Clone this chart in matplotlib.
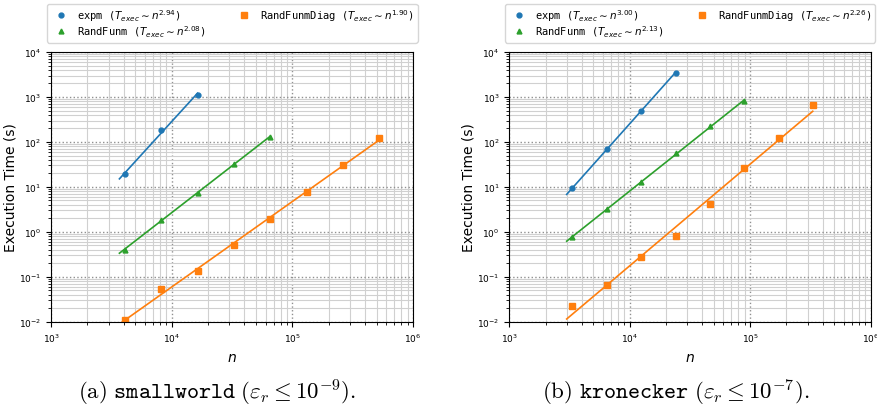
import numpy as np
import matplotlib
matplotlib.use("Agg")
import matplotlib.pyplot as plt
from matplotlib.ticker import LogLocator, NullFormatter

# smallworld
sw_n_expm = [4096, 8192, 16384]
sw_t_expm = [19.0, 185.0, 1130.0]
sw_n_funm = [4096, 8192, 16384, 32768, 65536]
sw_t_funm = [0.40, 1.85, 7.4, 33.0, 131.0]
sw_n_diag = [4096, 8192, 16384, 32768, 65536, 131072, 262144, 524288]
sw_t_diag = [0.0111, 0.054, 0.134, 0.50, 1.91, 7.8, 30.0, 121.0]
sw_exps = ["2.94", "2.08", "1.90"]

# kronecker
kr_n = [3330, 6470, 12450, 24150, 46600, 89500, 172700, 331000]
kr_t_expm = [9.3, 71.0, 497.0, 3450.0]
kr_t_funm = [0.77, 3.2, 12.9, 56.0, 221.0, 815.0]
kr_t_diag = [0.0225, 0.065, 0.272, 0.81, 4.1, 27.0, 121.0, 650.0]
kr_exps = ["3.00", "2.13", "2.26"]

names = ["expm", "RandFunm", "RandFunmDiag"]
colors = ["C0", "C2", "C1"]
markers = ["o", "^", "s"]
msizes = [3.5, 3.5, 4.2]


def fit_line(n, t, p):
    n = np.asarray(n, dtype=float)
    t = np.asarray(t, dtype=float)
    p = float(p)
    c = np.mean(np.log10(t) - p * np.log10(n))
    xs = np.linspace(0.9 * n[0], n[-1], 100)
    return xs, 10 ** c * xs ** p


def draw(ax, series, exps):
    for (n, t), name, exp, col, mk, ms in zip(series, names, exps, colors, markers, msizes):
        xs, ys = fit_line(n, t, exp)
        ax.plot(xs, ys, color=col, lw=1.2)
        ax.plot(n, t, ls="none", marker=mk, ms=ms, color=col,
                label=name + r" ($T_{exec} \sim n^{" + exp + "}$)")
    ax.set_xscale("log")
    ax.set_yscale("log")
    ax.set_xlim(1e3, 1e6)
    ax.set_ylim(1e-2, 1e4)
    for axis in (ax.xaxis, ax.yaxis):
        axis.set_major_locator(LogLocator(base=10, numticks=20))
        axis.set_minor_locator(LogLocator(base=10, subs=np.arange(2, 10), numticks=100))
        axis.set_minor_formatter(NullFormatter())
    ax.grid(True, which="minor", ls="-", color="#d0d0d0", lw=0.8)
    ax.grid(True, which="major", ls=":", color="#909090", lw=1.0)
    ax.tick_params(labelsize=6.5)
    ax.set_xlabel("$n$", fontsize=10)
    ax.set_ylabel("Execution Time (s)", fontsize=10, labelpad=1)
    ax.legend(loc="lower center", bbox_to_anchor=(0.5, 1.035), ncol=2,
              prop={"family": "DejaVu Sans Mono", "size": 7.5},
              handletextpad=0.6, columnspacing=2.6, borderaxespad=0.,
              labelspacing=0.05, borderpad=0.35)


fig = plt.figure(figsize=(8.77, 4.14), dpi=100)
ax1 = fig.add_axes([0.0582, 0.220, 0.4128, 0.652])
ax2 = fig.add_axes([0.5807, 0.220, 0.4120, 0.652])

draw(ax1, [(sw_n_expm, sw_t_expm), (sw_n_funm, sw_t_funm), (sw_n_diag, sw_t_diag)], sw_exps)
draw(ax2, [(kr_n[:4], kr_t_expm), (kr_n[:6], kr_t_funm), (kr_n, kr_t_diag)], kr_exps)

fig.text(0.247, 0.05, r"$\mathrm{(a)}\ \mathtt{smallworld}\ (\varepsilon_r \leq 10^{-9}).$",
         ha="center", va="center", fontsize=16.5, math_fontfamily="cm")
fig.text(0.770, 0.05, r"$\mathrm{(b)}\ \mathtt{kronecker}\ (\varepsilon_r \leq 10^{-7}).$",
         ha="center", va="center", fontsize=16.5, math_fontfamily="cm")

fig.savefig("out.png", dpi=100)
